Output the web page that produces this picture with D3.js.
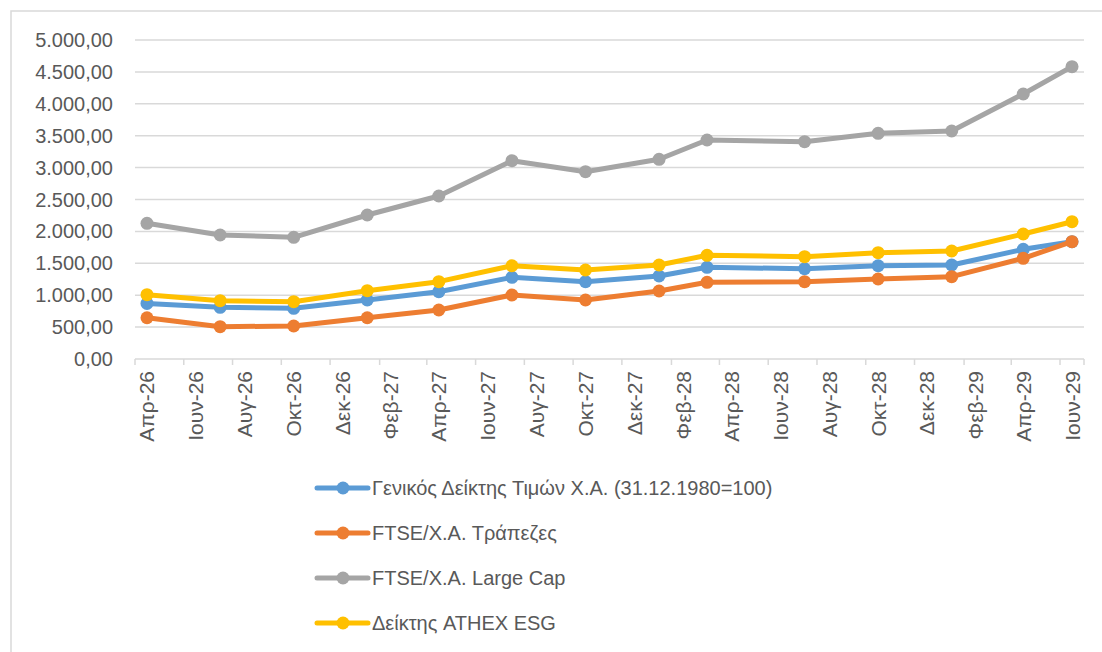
<!DOCTYPE html>
<html>
<meta charset="utf-8">
<script src="https://d3js.org/d3.v7.min.js"></script>
<style>
  body { margin: 0; background: #fff; }
  text { font-family: "Liberation Sans", Arial, sans-serif; fill: #595959; }
</style>
<body>
<div id="chart"></div>
<script>
// data (monthly date axis, points at month slots)
var dates = ["2026-04", "2026-07", "2026-10", "2027-01", "2027-04", "2027-07", "2027-10",
             "2028-01", "2028-03", "2028-07", "2028-10", "2029-01", "2029-04", "2029-06"];
var seriesNames = ["Γενικός Δείκτης Τιμών Χ.Α. (31.12.1980=100)", "FTSE/Χ.Α. Τράπεζες",
                   "FTSE/Χ.Α. Large Cap", "Δείκτης ATHEX ESG"];
var general  = [871, 810, 794, 925, 1055, 1280, 1212, 1301, 1437, 1415, 1462, 1473, 1719, 1839];
var banks    = [647, 506, 517, 647, 768, 1003, 925, 1066, 1202, 1212, 1254, 1290, 1578, 1839];
var largeCap = [2127, 1944, 1907, 2257, 2555, 3108, 2936, 3130, 3433, 3406, 3537, 3574, 4154, 4582];
var esg      = [1008, 914, 898, 1071, 1212, 1462, 1395, 1473, 1625, 1604, 1666, 1693, 1959, 2152];
var yTicks = [0, 500, 1000, 1500, 2000, 2500, 3000, 3500, 4000, 4500, 5000];
var monthNames = ["Ιαν", "Φεβ", "Μαρ", "Απρ", "Μαϊ", "Ιουν", "Ιουλ", "Αυγ", "Σεπ", "Οκτ", "Νοε", "Δεκ"];
var colors = ["#5B9BD5", "#ED7D31", "#A5A5A5", "#FFC000"];

var W = 1102, H = 652;
var plotLeft = 135, plotRight = 1084, plotTop = 40, plotBottom = 359;

var svg = d3.select("#chart").append("svg")
    .attr("width", W).attr("height", H);

// chart border (top + left only visible)
svg.append("rect")
    .attr("x", 11).attr("y", 11)
    .attr("width", W + 20).attr("height", H + 20)
    .attr("fill", "none").attr("stroke", "#D9D9D9").attr("stroke-width", 1.5);

var parse = d3.timeParse("%Y-%m");
var start = parse("2026-04"), end = d3.timeMonth.offset(parse("2029-06"), 1);
var months = d3.timeMonth.range(start, end);

// month slots on a time scale, points in the middle of each slot
var x = d3.scaleTime().domain([start, end]).range([plotLeft, plotRight]);
function xMid(d) {
  var m = parse(d);
  return (x(m) + x(d3.timeMonth.offset(m, 1))) / 2;
}
var y = d3.scaleLinear().domain([0, 5000]).range([plotBottom, plotTop]);

var fmt = d3.formatLocale({decimal: ",", thousands: ".", grouping: [3], currency: ["", "€"]}).format(",.2f");

// gridlines
svg.append("g").selectAll("line").data(yTicks.filter(function(t) { return t > 0; }))
  .enter().append("line")
    .attr("x1", plotLeft).attr("x2", plotRight)
    .attr("y1", function(d) { return y(d); }).attr("y2", function(d) { return y(d); })
    .attr("stroke", "#D9D9D9").attr("stroke-width", 1.5);

// y labels
svg.append("g").selectAll("text").data(yTicks)
  .enter().append("text")
    .attr("x", 113).attr("y", function(d) { return y(d); })
    .attr("dy", "0.35em")
    .attr("text-anchor", "end")
    .style("font-size", "20px")
    .text(function(d) { return fmt(d); });

// x axis line and ticks
svg.append("line")
    .attr("x1", plotLeft).attr("x2", plotRight).attr("y1", plotBottom).attr("y2", plotBottom)
    .attr("stroke", "#D9D9D9").attr("stroke-width", 1.5);
var tickMonths = months.filter(function(m, i) { return i % 2 === 0; });
svg.append("g").selectAll("line").data(tickMonths.concat([end]))
  .enter().append("line")
    .attr("x1", function(d) { return x(d); }).attr("x2", function(d) { return x(d); })
    .attr("y1", plotBottom).attr("y2", plotBottom + 6)
    .attr("stroke", "#D9D9D9").attr("stroke-width", 1.5);

// x labels, rotated
svg.append("g").selectAll("text").data(tickMonths)
  .enter().append("text")
    .attr("transform", function(d) {
      var cx = (x(d) + x(d3.timeMonth.offset(d, 1))) / 2;
      return "translate(" + (cx + 7.5) + "," + (plotBottom + 12) + ") rotate(-90)";
    })
    .attr("text-anchor", "end")
    .style("font-size", "21px")
    .text(function(d) {
      return monthNames[d.getMonth()] + "-" + String(d.getFullYear()).slice(2);
    });

// series
var allSeries = [general, banks, largeCap, esg];
var line = d3.line()
    .x(function(d, i) { return xMid(dates[i]); })
    .y(function(d) { return y(d); });

allSeries.forEach(function(vals, k) {
  var g = svg.append("g");
  g.append("path")
      .datum(vals)
      .attr("d", line)
      .attr("fill", "none")
      .attr("stroke", colors[k])
      .attr("stroke-width", 5)
      .attr("stroke-linejoin", "round");
  g.selectAll("circle").data(vals)
    .enter().append("circle")
      .attr("cx", function(d, i) { return xMid(dates[i]); })
      .attr("cy", function(d) { return y(d); })
      .attr("r", 6.5)
      .attr("fill", colors[k]);
});

// legend
var legend = svg.append("g").selectAll("g").data(seriesNames)
  .enter().append("g")
    .attr("transform", function(d, i) { return "translate(317," + (488 + i * 45) + ")"; });
legend.append("line")
    .attr("x1", 0).attr("x2", 51)
    .attr("stroke", function(d, i) { return colors[i]; })
    .attr("stroke-width", 5).attr("stroke-linecap", "round");
legend.append("circle")
    .attr("cx", 26).attr("r", 6.5)
    .attr("fill", function(d, i) { return colors[i]; });
legend.append("text")
    .attr("x", 55).attr("dy", "0.35em")
    .style("font-size", "20px")
    .text(function(d) { return d; });
</script>
</body>
</html>
